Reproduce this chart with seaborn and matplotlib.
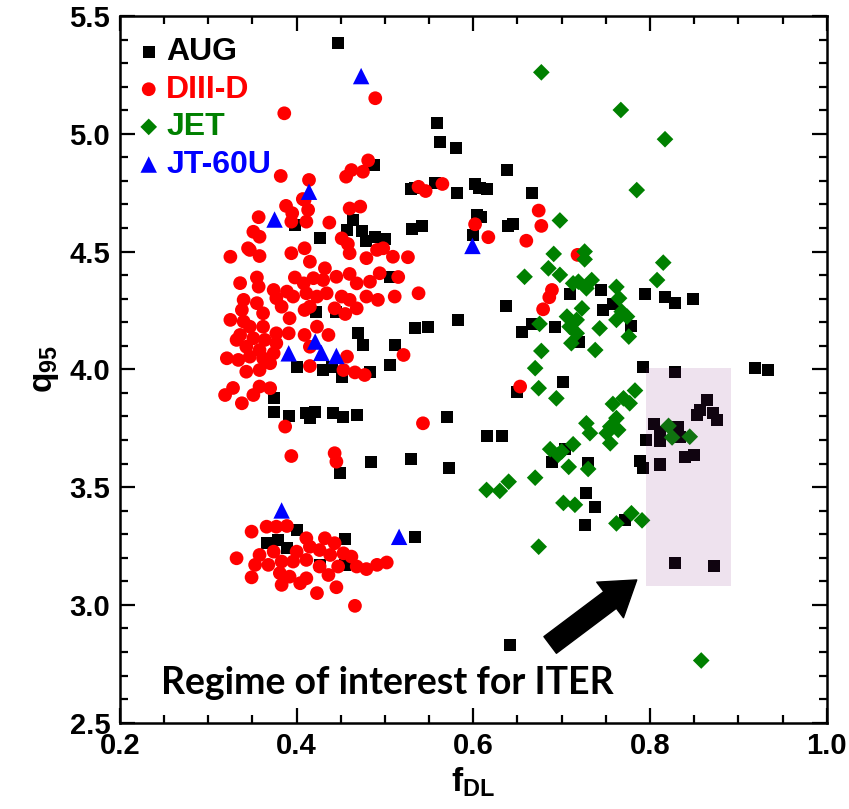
import matplotlib
matplotlib.use("Agg")
import matplotlib.pyplot as plt
from matplotlib import font_manager
from matplotlib.patches import Rectangle
from matplotlib.ticker import MultipleLocator
import seaborn as sns
import pandas as pd

# AUG (black squares)
aug_f = [0.447, 0.559, 0.562, 0.580, 0.488, 0.530, 0.534, 0.557, 0.582, 0.602,
         0.607, 0.616, 0.638, 0.666, 0.604, 0.609, 0.600, 0.639, 0.645, 0.426,
         0.542, 0.531, 0.464, 0.457, 0.474, 0.489, 0.500, 0.479, 0.398, 0.498,
         0.506, 0.422, 0.445, 0.534, 0.549, 0.470, 0.475, 0.511, 0.506, 0.400,
         0.430, 0.440, 0.451, 0.483, 0.583, 0.637, 0.655, 0.666, 0.692, 0.709,
         0.745, 0.794, 0.817, 0.828, 0.849, 0.747, 0.758, 0.778, 0.720, 0.792,
         0.828, 0.919, 0.934, 0.702, 0.649, 0.374, 0.374, 0.391, 0.411, 0.421,
         0.415, 0.441, 0.453, 0.468, 0.570, 0.615, 0.633, 0.484, 0.530, 0.572,
         0.449, 0.689, 0.704, 0.730, 0.728, 0.738, 0.726, 0.772, 0.804, 0.811,
         0.832, 0.796, 0.811, 0.834, 0.864, 0.857, 0.871, 0.876, 0.853, 0.840,
         0.850, 0.789, 0.792, 0.811, 0.828, 0.872, 0.455, 0.400, 0.366, 0.379,
         0.389, 0.426, 0.455, 0.534, 0.642]
aug_q = [5.385, 5.047, 4.966, 4.938, 4.868, 4.765, 4.768, 4.790, 4.748, 4.787,
         4.769, 4.766, 4.846, 4.749, 4.655, 4.648, 4.570, 4.609, 4.617, 4.558,
         4.609, 4.597, 4.634, 4.592, 4.589, 4.563, 4.552, 4.546, 4.613, 4.528,
         4.393, 4.245, 4.245, 4.174, 4.181, 4.153, 4.104, 4.104, 4.019, 4.010,
         3.997, 4.011, 3.969, 3.990, 4.210, 4.269, 4.160, 4.193, 4.179, 4.320,
         4.337, 4.320, 4.307, 4.281, 4.298, 4.251, 4.278, 4.184, 4.118, 4.010,
         3.987, 4.006, 3.997, 3.948, 3.905, 3.877, 3.820, 3.802, 3.814, 3.820,
         3.792, 3.816, 3.799, 3.806, 3.799, 3.717, 3.717, 3.608, 3.618, 3.580,
         3.559, 3.607, 3.661, 3.603, 3.474, 3.417, 3.340, 3.361, 3.768, 3.732,
         3.757, 3.700, 3.696, 3.714, 3.870, 3.828, 3.814, 3.787, 3.806, 3.629,
         3.637, 3.609, 3.580, 3.596, 3.177, 3.166, 3.280, 3.318, 3.262, 3.276,
         3.241, 3.170, 3.170, 3.289, 2.830]

# DIII-D (red circles)
d3d_f = [0.489, 0.386, 0.382, 0.414, 0.481, 0.475, 0.462, 0.456, 0.538, 0.546,
         0.565, 0.407, 0.388, 0.395, 0.413, 0.357, 0.394, 0.411, 0.409, 0.460,
         0.472, 0.437, 0.451, 0.458, 0.674, 0.677, 0.660, 0.617, 0.602, 0.718,
         0.351, 0.358, 0.345, 0.325, 0.347, 0.358, 0.394, 0.409, 0.415, 0.460,
         0.479, 0.491, 0.498, 0.509, 0.526, 0.515, 0.336, 0.355, 0.357, 0.374,
         0.389, 0.398, 0.408, 0.419, 0.432, 0.430, 0.445, 0.460, 0.468, 0.483,
         0.494, 0.479, 0.492, 0.511, 0.538, 0.377, 0.396, 0.411, 0.423, 0.434,
         0.451, 0.460, 0.340, 0.355, 0.362, 0.338, 0.383, 0.409, 0.415, 0.443,
         0.455, 0.468, 0.325, 0.340, 0.347, 0.362, 0.392, 0.377, 0.336, 0.332,
         0.351, 0.364, 0.377, 0.391, 0.343, 0.358, 0.347, 0.321, 0.334, 0.362,
         0.370, 0.343, 0.358, 0.374, 0.409, 0.423, 0.436, 0.415, 0.415, 0.457,
         0.521, 0.453, 0.466, 0.477, 0.319, 0.328, 0.338, 0.351, 0.358, 0.370,
         0.387, 0.543, 0.394, 0.443, 0.445, 0.653, 0.689, 0.686, 0.679, 0.349,
         0.366, 0.377, 0.389, 0.411, 0.432, 0.443, 0.332, 0.358, 0.374, 0.400,
         0.415, 0.426, 0.438, 0.453, 0.462, 0.353, 0.368, 0.383, 0.396, 0.411,
         0.426, 0.447, 0.468, 0.479, 0.491, 0.502, 0.349, 0.381, 0.392, 0.411,
         0.436, 0.383, 0.404, 0.423, 0.445, 0.466]
d3d_q = [5.151, 5.087, 4.821, 4.804, 4.887, 4.839, 4.846, 4.818, 4.775, 4.757,
         4.787, 4.723, 4.694, 4.663, 4.677, 4.646, 4.627, 4.627, 4.719, 4.683,
         4.691, 4.623, 4.556, 4.532, 4.674, 4.609, 4.546, 4.561, 4.616, 4.486,
         4.584, 4.563, 4.514, 4.478, 4.507, 4.481, 4.493, 4.514, 4.457, 4.493,
         4.472, 4.507, 4.514, 4.478, 4.476, 4.392, 4.366, 4.390, 4.351, 4.337,
         4.330, 4.390, 4.365, 4.387, 4.429, 4.379, 4.393, 4.405, 4.365, 4.372,
         4.408, 4.309, 4.295, 4.309, 4.323, 4.302, 4.309, 4.323, 4.309, 4.323,
         4.309, 4.295, 4.295, 4.281, 4.238, 4.252, 4.266, 4.252, 4.266, 4.259,
         4.235, 4.259, 4.210, 4.203, 4.181, 4.181, 4.217, 4.153, 4.146, 4.125,
         4.132, 4.125, 4.111, 4.153, 4.096, 4.082, 4.054, 4.047, 4.040, 4.047,
         4.026, 3.990, 3.997, 4.068, 4.146, 4.181, 4.146, 4.096, 4.014, 4.054,
         4.061, 3.997, 3.987, 3.976, 3.891, 3.921, 3.856, 3.891, 3.927, 3.920,
         3.757, 3.771, 3.632, 3.644, 3.608, 3.927, 4.337, 4.306, 4.255, 3.311,
         3.332, 3.332, 3.335, 3.283, 3.283, 3.262, 3.198, 3.212, 3.226, 3.226,
         3.247, 3.233, 3.212, 3.219, 3.205, 3.170, 3.170, 3.184, 3.184, 3.191,
         3.163, 3.163, 3.163, 3.152, 3.170, 3.180, 3.117, 3.135, 3.120, 3.113,
         3.127, 3.085, 3.092, 3.050, 3.075, 2.996]

# JET (green diamonds)
jet_f = [0.677, 0.767, 0.817, 0.785, 0.698, 0.691, 0.726, 0.726, 0.815, 0.808,
         0.685, 0.698, 0.658, 0.713, 0.719, 0.734, 0.728, 0.762, 0.765, 0.723,
         0.706, 0.717, 0.709, 0.717, 0.675, 0.743, 0.762, 0.774, 0.768, 0.776,
         0.711, 0.738, 0.677, 0.670, 0.674, 0.694, 0.783, 0.777, 0.770, 0.758,
         0.762, 0.728, 0.732, 0.755, 0.751, 0.764, 0.755, 0.713, 0.700, 0.687,
         0.696, 0.708, 0.730, 0.670, 0.640, 0.630, 0.615, 0.702, 0.715, 0.762,
         0.779, 0.791, 0.674, 0.858, 0.821, 0.825, 0.845]
jet_q = [5.261, 5.101, 4.977, 4.761, 4.632, 4.490, 4.500, 4.467, 4.453, 4.379,
         4.429, 4.401, 4.393, 4.365, 4.372, 4.379, 4.344, 4.350, 4.302, 4.259,
         4.224, 4.210, 4.181, 4.153, 4.193, 4.174, 4.210, 4.224, 4.245, 4.139,
         4.111, 4.082, 4.078, 4.005, 3.920, 3.877, 3.910, 3.856, 3.877, 3.853,
         3.793, 3.771, 3.729, 3.757, 3.729, 3.743, 3.686, 3.682, 3.651, 3.661,
         3.637, 3.586, 3.577, 3.540, 3.523, 3.484, 3.488, 3.433, 3.425, 3.346,
         3.389, 3.359, 3.247, 2.764, 3.760, 3.711, 3.714]

# JT-60U (blue triangles)
jt_f = [0.473, 0.414, 0.375, 0.599, 0.391, 0.421, 0.428, 0.445, 0.383, 0.516]
jt_q = [5.245, 4.754, 4.636, 4.524, 4.068, 4.118, 4.070, 4.057, 3.401, 3.289]

series = [
    ("AUG", aug_f, aug_q, "s", "black", 75),
    ("DIII-D", d3d_f, d3d_q, "o", "#ff0000", 98),
    ("JET", jet_f, jet_q, "D", "#008000", 72),
    ("JT-60U", jt_f, jt_q, "^", "#0000ff", 140),
]

sns.set_style("ticks")
names = {f.name for f in font_manager.fontManager.ttflist}
narrow = "Liberation Sans Narrow" if "Liberation Sans Narrow" in names else "Liberation Sans"
plt.rcParams["font.family"] = [narrow, "DejaVu Sans"]
plt.rcParams["font.weight"] = "bold"
plt.rcParams["text.color"] = "black"
plt.rcParams["axes.labelcolor"] = "black"
plt.rcParams["axes.edgecolor"] = "black"
plt.rcParams["xtick.color"] = "black"
plt.rcParams["ytick.color"] = "black"
plt.rcParams["mathtext.fontset"] = "custom"
plt.rcParams["mathtext.rm"] = narrow + ":bold"
plt.rcParams["mathtext.it"] = narrow + ":bold"
plt.rcParams["mathtext.bf"] = narrow + ":bold"

fig = plt.figure(figsize=(8.49, 8.09), dpi=100)
ax = fig.add_axes([0.1413, 0.1067, 0.8324, 0.8735])

for name, f, q, mk, col, size in series:
    df = pd.DataFrame({"f": f, "q": q})
    sns.scatterplot(data=df, x="f", y="q", marker=mk, color=col, s=size,
                    linewidth=0, edgecolor="none", label=name, ax=ax)

ax.set_xlim(0.2, 1.0)
ax.set_ylim(2.5, 5.5)
ax.xaxis.set_minor_locator(MultipleLocator(0.05))
ax.yaxis.set_minor_locator(MultipleLocator(0.1))
ax.set_xticks([0.2, 0.4, 0.6, 0.8, 1.0])
ax.set_xticklabels(["0.2", "0.4", "0.6", "0.8", "1.0"])
ax.set_yticks([2.5, 3.0, 3.5, 4.0, 4.5, 5.0, 5.5])
ax.set_yticklabels(["2.5", "3.0", "3.5", "4.0", "4.5", "5.0", "5.5"])
ax.tick_params(which="both", direction="in", top=True, right=True, width=1.6,
               labelsize=21, pad=7, colors="black")
ax.tick_params(which="major", length=11)
ax.tick_params(which="minor", length=5.5)
for sp in ax.spines.values():
    sp.set_linewidth(1.8)
    sp.set_color("black")

ax.set_xlabel(r"$\mathrm{f}_{\mathrm{DL}}$", fontsize=24, labelpad=4, color="black")
ax.set_ylabel(r"$\mathrm{q}_{\mathrm{95}}$", fontsize=24, labelpad=6, color="black")

# regime box
ax.add_patch(Rectangle((0.795, 3.082), 0.097, 0.924, facecolor="#801f80",
                       alpha=0.13, edgecolor="none", zorder=3))

ax.annotate("", xy=(0.785, 3.106), xytext=(0.687, 2.830),
            arrowprops=dict(arrowstyle="simple,head_length=1.2,head_width=1.6,tail_width=0.75",
                            color="black", mutation_scale=20, shrinkA=0, shrinkB=0))
ax.text(0.503, 2.669, "Regime of interest for ITER", ha="center", va="center",
        fontsize=27, fontweight="bold", color="black", family=["Lato", "DejaVu Sans"])

leg = ax.legend(loc="upper left", bbox_to_anchor=(0.0, 0.993), frameon=False,
                fontsize=23, handlelength=0.8, handletextpad=0.15,
                labelspacing=0.24, borderaxespad=0.2, borderpad=0.3)
for txt, (_, _, _, _, col, _) in zip(leg.get_texts(), series):
    txt.set_color(col)

fig.savefig("out.png", dpi=100)
